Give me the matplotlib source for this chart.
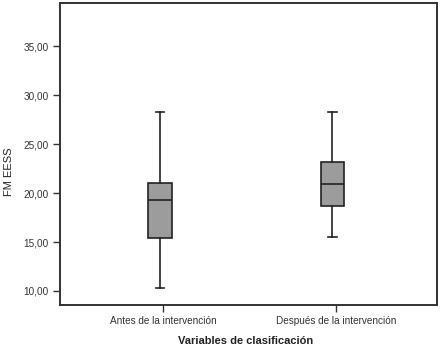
import matplotlib
matplotlib.use("Agg")
import matplotlib.pyplot as plt
from matplotlib import font_manager

categories = ["Antes de la intervención", "Después de la intervención"]
whisker_low = [10.3, 15.5]
q1 = [15.4, 18.7]
median = [19.3, 20.9]
q3 = [21.0, 23.2]
whisker_high = [28.3, 28.3]
yticks = [10, 15, 20, 25, 30, 35]
ytick_labels = ["10,00", "15,00", "20,00", "25,00", "30,00", "35,00"]

names = {f.name for f in font_manager.fontManager.ttflist}
narrow = "Liberation Sans Narrow" if "Liberation Sans Narrow" in names else "Liberation Sans"

W, H = 441, 346
fig = plt.figure(figsize=(W/100, H/100), dpi=100)
ax = fig.add_axes([60/W, 1-305/H, 377/W, 302/H])

stats = []
for i, c in enumerate(categories):
    stats.append(dict(label=c, whislo=whisker_low[i], q1=q1[i], med=median[i],
                      q3=q3[i], whishi=whisker_high[i], fliers=[]))
positions = [-0.02, 0.98]
ax.bxp(stats, positions=positions, widths=0.135, patch_artist=True,
       boxprops=dict(facecolor="#9c9c9c", edgecolor="#222222", linewidth=1.2),
       medianprops=dict(color="#222222", linewidth=1.2),
       whiskerprops=dict(color="#222222", linewidth=1.2),
       capprops=dict(color="#222222", linewidth=1.2),
       capwidths=0.05, manage_ticks=False)

ax.set_xlim(-0.6, 1.586)
ax.set_ylim(8.57, 39.4)
ax.set_xticks([0, 1])
ax.set_xticklabels(categories, fontsize=7.2, family=narrow, color="#333333")
ax.set_yticks(yticks)
ax.set_yticklabels(ytick_labels, fontsize=7.2, family=narrow, color="#333333")
ax.tick_params(axis="both", direction="out", length=5, width=1.0, color="#333333", pad=3)
for s in ax.spines.values():
    s.set_linewidth(1.4)
    s.set_color("#333333")

fig.text(9/W, 1-172/H, "FM EESS", rotation=90, ha="center", va="center",
         fontsize=8, family="Liberation Sans", color="#222222")
fig.text(246/W, 1-341/H, "Variables de clasificación", ha="center", va="center",
         fontsize=8, family="Liberation Sans", fontweight="bold", color="#222222")

fig.savefig("out.png", dpi=100)
